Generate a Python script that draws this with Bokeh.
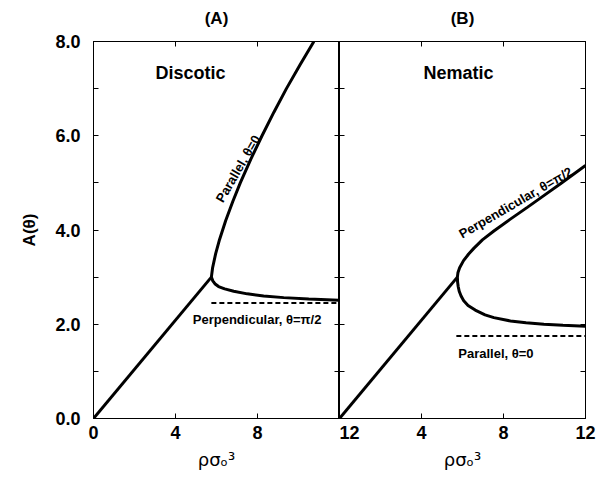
import math
from bokeh.plotting import figure
from bokeh.layouts import row
from bokeh.models import (LinearAxis, FixedTicker, PrintfTickFormatter, Range1d, Label,
                          CustomLabelingPolicy)
from bokeh.embed import file_html
from bokeh.resources import INLINE

# ---------------- data ----------------
x_ticks = [0, 4, 8, 12]
y_ticks = [0, 2, 4, 6, 8]
y_minor = [1, 3, 5, 7]
panel_titles = ["(A)", "(B)"]

# isotropic branch (shared)
iso_rho = [0.0, 5.75]
iso_A = [0.0, 3.0]

# (A) Discotic
disc_par_rho = [5.75, 5.81, 5.96, 6.15, 6.45, 6.79, 7.16, 7.67, 8.22, 8.80, 9.41, 10.07, 10.75]
disc_par_A = [3.00, 3.20, 3.50, 3.80, 4.20, 4.60, 5.00, 5.50, 6.00, 6.50, 7.00, 7.50, 8.00]
disc_perp_rho = [5.75, 5.82, 5.92, 6.10, 6.40, 6.84, 7.50, 8.30, 9.28, 10.50, 12.00]
disc_perp_A = [3.00, 2.92, 2.86, 2.80, 2.75, 2.70, 2.645, 2.60, 2.565, 2.535, 2.51]
disc_limit_rho = [5.75, 12.0]
disc_limit_A = [2.45, 2.45]

# (B) Nematic
nem_perp_rho = [5.75, 5.78, 5.86, 6.05, 6.30, 6.55, 6.97, 7.53, 8.30, 9.16, 10.00, 10.78, 12.00]
nem_perp_A = [3.00, 3.10, 3.20, 3.35, 3.49, 3.61, 3.79, 3.98, 4.22, 4.48, 4.74, 4.98, 5.37]
nem_par_rho = [5.75, 5.76, 5.79, 5.84, 5.93, 6.06, 6.27, 6.62, 7.10, 7.53, 8.34, 9.10, 9.97, 10.90, 12.00]
nem_par_A = [3.00, 2.90, 2.80, 2.70, 2.60, 2.50, 2.40, 2.30, 2.20, 2.14, 2.07, 2.03, 2.00, 1.98, 1.96]
nem_limit_rho = [5.70, 12.0]
nem_limit_A = [1.75, 1.75]

FONT = "Liberation Sans"
HIDE = CustomLabelingPolicy(code="""
const all = [...indices]
for (const i of all) indices.unset(i)
return indices
""")


def mirror_axis(ax, ticker):
    ax.ticker = ticker
    ax.axis_line_color = "black"
    ax.major_tick_in = 5
    ax.major_tick_out = 0
    ax.minor_tick_in = 5
    ax.minor_tick_out = 0
    ax.major_tick_line_color = "black"
    ax.minor_tick_line_color = "black"
    ax.major_label_text_font_size = "0px"
    ax.major_label_standoff = 0
    ax.major_label_policy = HIDE
    ax.axis_label = None


def add_label(p, x, y, text, size, angle=0.0):
    p.add_layout(Label(x=x, y=y, text=text, text_font=FONT, text_font_size=size,
                       text_font_style="bold", text_color="black",
                       text_align="center", text_baseline="middle",
                       angle=math.radians(angle)))


def make_panel(title, left_labels, border_left, border_right):
    p = figure(frame_width=246, frame_height=377,
               x_range=Range1d(0, 12), y_range=Range1d(0, 8),
               output_backend="svg", toolbar_location=None,
               min_border_left=border_left, min_border_right=border_right,
               min_border_top=41, min_border_bottom=56,
               x_axis_location=None, y_axis_location=None)
    p.grid.visible = False
    p.outline_line_color = "black"
    p.background_fill_color = "white"
    p.border_fill_color = "white"

    xt = FixedTicker(ticks=x_ticks)
    yt = FixedTicker(ticks=y_ticks, minor_ticks=y_minor)

    xb = LinearAxis(ticker=xt)
    xb.axis_line_color = "black"
    xb.major_tick_in = 5
    xb.major_tick_out = 0
    xb.minor_tick_line_color = None
    xb.major_label_text_font = FONT
    xb.major_label_text_font_size = "18px"
    xb.major_label_text_font_style = "bold"
    xb.major_label_text_color = "black"
    xb.major_label_standoff = 7
    xb.axis_label = "ρσₒ³"
    xb.axis_label_text_font = "DejaVu Sans"
    xb.axis_label_text_font_style = "normal"
    xb.axis_label_text_font_size = "18px"
    xb.axis_label_text_color = "black"
    xb.axis_label_standoff = 7
    p.add_layout(xb, "below")

    yl = LinearAxis(ticker=yt)
    if left_labels:
        yl.axis_line_color = "black"
        yl.major_tick_in = 5
        yl.major_tick_out = 0
        yl.minor_tick_in = 5
        yl.minor_tick_out = 0
        yl.formatter = PrintfTickFormatter(format="%.1f")
        yl.major_label_text_font = FONT
        yl.major_label_text_font_size = "18px"
        yl.major_label_text_font_style = "bold"
        yl.major_label_text_color = "black"
        yl.major_label_standoff = 13
        yl.axis_label = "A(θ)"
        yl.axis_label_text_font = FONT
        yl.axis_label_text_font_size = "17px"
        yl.axis_label_text_font_style = "bold"
        yl.axis_label_text_color = "black"
        yl.axis_label_standoff = 13
    else:
        mirror_axis(yl, yt)
    p.add_layout(yl, "left")

    yr = LinearAxis()
    mirror_axis(yr, FixedTicker(ticks=y_ticks, minor_ticks=y_minor))
    p.add_layout(yr, "right")

    xa = LinearAxis()
    mirror_axis(xa, FixedTicker(ticks=x_ticks))
    # panel title carried by the top (mirror) axis
    xa.axis_label = title
    xa.axis_label_text_font = FONT
    xa.axis_label_text_font_size = "17px"
    xa.axis_label_text_font_style = "bold"
    xa.axis_label_text_color = "black"
    xa.axis_label_standoff = 14
    p.add_layout(xa, "above")
    return p, xb


pA, xbA = make_panel(panel_titles[0], True, 93, 0)
xbA.major_label_overrides = {12: ""}
pB, xbB = make_panel(panel_titles[1], False, 0, 14)
xbB.major_label_overrides = {0: "12"}

LW = 3
# Panel A
pA.line(iso_rho, iso_A, line_color="black", line_width=LW)
pA.line(disc_par_rho, disc_par_A, line_color="black", line_width=LW)
pA.line(disc_perp_rho, disc_perp_A, line_color="black", line_width=LW)
pA.line(disc_limit_rho, disc_limit_A, line_color="black", line_width=2, line_dash="5 3")
add_label(pA, 4.73, 7.33, "Discotic", "18px")
add_label(pA, 7.98, 2.10, "Perpendicular, θ=π/2", "13px")
add_label(pA, 7.05, 5.30, "Parallel, θ=0", "13px", 60)

# Panel B
pB.line(iso_rho, iso_A, line_color="black", line_width=LW)
pB.line(nem_perp_rho, nem_perp_A, line_color="black", line_width=LW)
pB.line(nem_par_rho, nem_par_A, line_color="black", line_width=LW)
pB.line(nem_limit_rho, nem_limit_A, line_color="black", line_width=2, line_dash="5 3")
add_label(pB, 5.8, 7.33, "Nematic", "18px")
add_label(pB, 7.63, 1.37, "Parallel, θ=0", "13px")
add_label(pB, 8.59, 4.58, "Perpendicular, θ=π/2", "13px", 30)

layout = row(pA, pB)
open("out.html", "w").write(file_html(layout, INLINE))
